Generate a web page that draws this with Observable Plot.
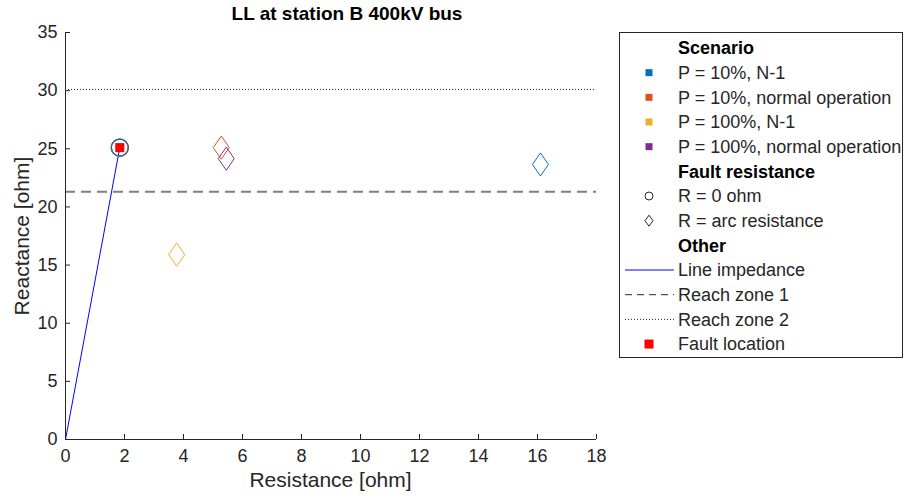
<!DOCTYPE html>
<html>
<head>
<meta charset="utf-8">
<script src="https://cdn.jsdelivr.net/npm/d3@7"></script>
<script src="https://cdn.jsdelivr.net/npm/@observablehq/plot@0.6"></script>
<style>
  html, body { margin: 0; padding: 0; background: #fff; }
  #wrap { position: relative; width: 904px; height: 499px; background: #fff;
          font-family: "Liberation Sans", Arial, sans-serif; color: #262626; overflow: hidden; }
  #chart { position: absolute; left: 0; top: 0; }
  .abs { position: absolute; white-space: nowrap; }
  #title { left: 0; width: 694px; top: 3px; text-align: center; font-weight: bold; font-size: 19px; color: #000; }
  #xlabel { left: 0; width: 661px; top: 468px; text-align: center; font-size: 21px; }
  #ylabel { left: 22px; top: 236px; font-size: 21px; transform: translate(-50%, -50%) rotate(-90deg); }
  #legend { left: 619px; top: 32px; }
</style>
</head>
<body>
<div id="wrap">
  <div id="chart"></div>
  <div id="title" class="abs">LL at station B 400kV bus</div>
  <div id="xlabel" class="abs">Resistance [ohm]</div>
  <div id="ylabel" class="abs">Reactance [ohm]</div>
  <div id="legend" class="abs"></div>
</div>
<script>
// ---- data ----
const scenarios = ["P = 10%, N-1", "P = 10%, normal operation", "P = 100%, N-1", "P = 100%, normal operation"];
const scenarioColors = ["#0072BD", "#D95319", "#EDB120", "#7E2F8E"];
// R = 0 ohm results (one per scenario)
const r0R = [1.84, 1.84, 1.84, 1.84];
const r0X = [25.1, 25.1, 25.1, 25.1];
// R = arc resistance results (one per scenario)
const arcR = [16.1, 5.28, 3.77, 5.45];
const arcX = [23.65, 25.1, 15.9, 24.15];
// line impedance (origin to fault)
const lineR = [0, 1.84];
const lineX = [0, 25.1];
// fault location
const faultR = [1.84];
const faultX = [25.1];
// reach zones
const reachZone1 = 21.3;
const reachZone2 = 30.1;
// ticks
const xTicks = [0, 2, 4, 6, 8, 10, 12, 14, 16, 18];
const yTicks = [0, 5, 10, 15, 20, 25, 30, 35];
const legendTitles = ["Scenario", "Fault resistance", "Other"];
const faultResLabels = ["R = 0 ohm", "R = arc resistance"];
const otherLabels = ["Line impedance", "Reach zone 1", "Reach zone 2", "Fault location"];

// ---- tables ----
const r0 = scenarios.map((s, i) => ({s, R: r0R[i], X: r0X[i], c: scenarioColors[i]})).reverse();
const arc = scenarios.map((s, i) => ({s, R: arcR[i], X: arcX[i], c: scenarioColors[i]}));
const line = lineR.map((R, i) => ({R, X: lineX[i]}));
const fault = faultR.map((R, i) => ({R, X: faultX[i]}));

// MATLAB-like diamond (taller than wide)
const diamond = {
  draw(ctx, size) {
    const r = Math.sqrt(size / Math.PI);
    const w = r * 0.94, h = r * 1.36;
    ctx.moveTo(0, -h); ctx.lineTo(w, 0); ctx.lineTo(0, h); ctx.lineTo(-w, 0); ctx.closePath();
  }
};

const axisColor = "#262626";
const chart = Plot.plot({
  width: 904, height: 499,
  marginLeft: 65, marginRight: 308, marginTop: 32, marginBottom: 60,
  x: {domain: [0, 18]},
  y: {domain: [0, 35]},
  style: {fontFamily: "'Liberation Sans', Arial, sans-serif", fontSize: "18px", color: axisColor, background: "transparent"},
  marks: [
    Plot.ruleY([reachZone2], {stroke: "#262626", strokeWidth: 1, strokeDasharray: "1,2"}),
    Plot.ruleY([reachZone1], {stroke: "#808080", strokeWidth: 2, strokeDasharray: "10,6"}),
    Plot.line(line, {x: "R", y: "X", stroke: "#0000FF", strokeWidth: 1}),
    Plot.dot(r0, {x: "R", y: "X", r: 8.5, stroke: "c", strokeWidth: 1.2, fill: "none"}),
    Plot.dot(arc, {x: "R", y: "X", r: 8.5, stroke: "c", strokeWidth: 1, fill: "none", symbol: diamond}),
    Plot.dot(fault, {x: "R", y: "X", r: 5.1, fill: "#FF0000", symbol: "square"}),
    Plot.axisX({ticks: xTicks, tickSize: -5, fill: "none", label: null, stroke: axisColor}),
    Plot.axisX({ticks: xTicks, tickSize: 0, tickPadding: 10, label: null, fill: axisColor}),
    Plot.axisY({ticks: yTicks, tickSize: -5, fill: "none", label: null, stroke: axisColor}),
    Plot.axisY({ticks: yTicks, tickSize: 0, tickPadding: 8, label: null, fill: axisColor}),
    Plot.ruleX([0], {stroke: axisColor}),
    Plot.ruleY([0], {stroke: axisColor})
  ]
});
document.getElementById("chart").appendChild(chart);

// ---- legend ----
const LW = 284, LH = 325, rowH = 24.67, row0 = 16, textX = 59, markX = 30;
const svg = d3.select("#legend").append("svg").attr("width", LW + 1).attr("height", LH + 1)
  .style("font-family", "'Liberation Sans', Arial, sans-serif").style("font-size", "18px");
svg.append("rect").attr("x", 0.5).attr("y", 0.5).attr("width", LW - 1).attr("height", LH)
  .attr("fill", "#fff").attr("stroke", "#262626");
const rows = [];
rows.push({t: legendTitles[0], bold: true});
scenarios.forEach((s, i) => rows.push({t: s, kind: "sq", c: scenarioColors[i]}));
rows.push({t: legendTitles[1], bold: true});
rows.push({t: faultResLabels[0], kind: "circle"});
rows.push({t: faultResLabels[1], kind: "diamond"});
rows.push({t: legendTitles[2], bold: true});
rows.push({t: otherLabels[0], kind: "line", c: "#0000FF", dash: null});
rows.push({t: otherLabels[1], kind: "line", c: "#262626", dash: "7,5"});
rows.push({t: otherLabels[2], kind: "line", c: "#262626", dash: "1,2"});
rows.push({t: otherLabels[3], kind: "sq", c: "#FF0000", big: true});
rows.forEach((r, i) => {
  const y = row0 + i * rowH;
  const g = svg.append("g");
  g.append("text").attr("x", textX).attr("y", y).attr("dy", "0.35em")
    .attr("fill", r.bold ? "#000" : "#262626").attr("font-weight", r.bold ? "bold" : null).text(r.t);
  if (r.kind === "sq") {
    const s = r.big ? 9 : 7;
    g.append("rect").attr("x", markX - s / 2).attr("y", y - s / 2).attr("width", s).attr("height", s).attr("fill", r.c);
  } else if (r.kind === "circle") {
    g.append("circle").attr("cx", markX).attr("cy", y).attr("r", 4).attr("fill", "none").attr("stroke", "#262626");
  } else if (r.kind === "diamond") {
    g.append("path").attr("d", `M${markX},${y - 5.5}L${markX + 4},${y}L${markX},${y + 5.5}L${markX - 4},${y}Z`)
      .attr("fill", "none").attr("stroke", "#262626");
  } else if (r.kind === "line") {
    g.append("line").attr("x1", 6).attr("x2", 55).attr("y1", y).attr("y2", y)
      .attr("stroke", r.c).attr("stroke-dasharray", r.dash);
  }
});
</script>
</body>
</html>
